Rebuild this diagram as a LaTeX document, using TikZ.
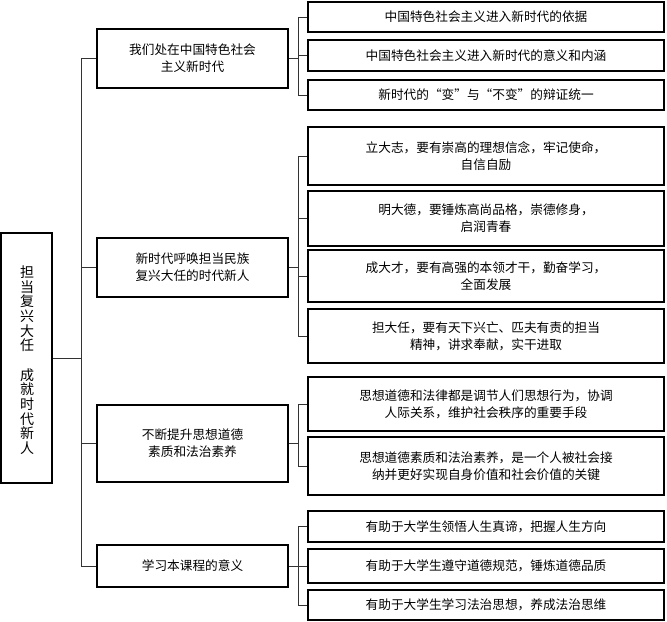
\documentclass[tikz,border=0pt]{standalone}
\usepackage{fontspec}
\newfontfamily\cjk{Noto Sans CJK SC}
\begin{document}
\begin{tikzpicture}[x=0.75pt,y=-0.75pt,
  bx/.style={draw=black,line width=0.8pt,inner sep=0pt,align=center,font=\cjk\fontsize{9.5}{13}\selectfont},
  ln/.style={draw=black!80,line width=0.7pt}]
\useasboundingbox (0,0) rectangle (667,621);
\newcommand\bxx[6]{\node[bx,minimum width={(#3-#2)*0.75pt},minimum height={(#5-#4)*0.75pt}] (#1) at ({(#2+#3)/2},{(#4+#5)/2}) {#6};}
\bxx{r}{1}{52}{233}{483}{}
\node[font=\cjk\fontsize{10.5}{11}\selectfont,align=center] at (27,360) {担\\当\\复\\兴\\大\\任\\[11pt]成\\就\\时\\代\\新\\人};
\bxx{a}{97}{288}{29}{88}{我们处在中国特色社会\\主义新时代}
\bxx{b}{97}{288}{238}{297}{新时代呼唤担当民族\\复兴大任的时代新人}
\bxx{c}{97}{288}{405}{482}{不断提升思想道德\\素质和法治素养}
\bxx{d}{97}{288}{545}{587}{学习本课程的意义}
\bxx{a1}{308}{664}{2}{32}{中国特色社会主义进入新时代的依据}
\bxx{a2}{308}{664}{40}{71}{中国特色社会主义进入新时代的意义和内涵}
\bxx{a3}{308}{664}{80}{110}{新时代的“变”与“不变”的辩证统一}
\bxx{b1}{308}{664}{127}{185}{立大志，要有崇高的理想信念，牢记使命，\\自信自励}
\bxx{b2}{308}{664}{191}{246}{明大德，要锤炼高尚品格，崇德修身，\\启润青春}
\bxx{b3}{308}{664}{250}{302}{成大才，要有高强的本领才干，勤奋学习，\\全面发展}
\bxx{b4}{308}{664}{309}{363}{担大任，要有天下兴亡、匹夫有责的担当\\精神，讲求奉献，实干进取}
\bxx{c1}{308}{664}{377}{431}{思想道德和法律都是调节人们思想行为，协调\\人际关系，维护社会秩序的重要手段}
\bxx{c2}{308}{664}{437}{495}{思想道德素质和法治素养，是一个人被社会接\\纳并更好实现自身价值和社会价值的关键}
\bxx{d1}{308}{664}{511}{542}{有助于大学生领悟人生真谛，把握人生方向}
\bxx{d2}{308}{664}{549}{583}{有助于大学生遵守道德规范，锤炼道德品质}
\bxx{d3}{308}{664}{590}{620}{有助于大学生学习法治思想，养成法治思维}
\coordinate (sp) at (81,0);
\draw[ln] (r.east) -- (r.east -| sp);
\draw[ln] (a.west -| sp) -- (d.west -| sp);
\foreach \n in {a,b,c,d} \draw[ln] (\n.west -| sp) -- (\n.west);
\coordinate (sq) at (298,0);
\foreach \p/\f/\l in {a/a1/a3,b/b1/b4,c/c1/c2,d/d1/d3}{
  \draw[ln] (\p.east) -- (\p.east -| sq);
  \draw[ln] (\f.west -| sq) -- (\l.west -| sq);
}
\foreach \n in {a1,a2,a3,b1,b2,b3,b4,c1,c2,d1,d2,d3} \draw[ln] (\n.west -| sq) -- (\n.west);
\end{tikzpicture}
\end{document}
